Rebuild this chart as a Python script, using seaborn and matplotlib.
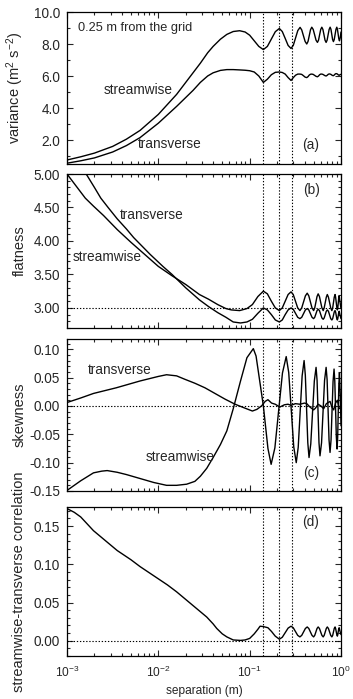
import numpy as np
import pandas as pd
import matplotlib
matplotlib.use("Agg")
import matplotlib.pyplot as plt
import matplotlib.ticker as mticker
import seaborn as sns

# ---------------- data ----------------
# separations are stored as log10(separation / m)

# panel (a) variance
var_logsep = [-3.0, -2.85, -2.7, -2.5, -2.35, -2.2, -2.0, -1.8, -1.62, -1.54,
              -1.46, -1.40, -1.32, -1.25, -1.18, -1.11, -1.05, -1.0, -0.95, -0.90,
              -0.85, -0.806, -0.7625, -0.719, -0.675, -0.643, -0.611, -0.579, -0.547, -0.522,
              -0.4975, -0.473, -0.448, -0.43, -0.4115, -0.393, -0.375, -0.361, -0.3475, -0.334,
              -0.32, -0.3045, -0.289, -0.2735, -0.258, -0.246, -0.234, -0.222, -0.21, -0.198,
              -0.1865, -0.175, -0.163, -0.152, -0.141, -0.13, -0.119, -0.11, -0.101, -0.092,
              -0.083, -0.074, -0.0645, -0.055, -0.046, -0.039, -0.0315, -0.024, -0.017, -0.008,
              0.0]
var_stream = [0.75, 0.95, 1.18, 1.6, 2.05, 2.6, 3.6, 4.85, 6.2, 6.8,
              7.45, 7.85, 8.3, 8.6, 8.78, 8.83, 8.75, 8.55, 8.2, 7.85,
              7.65, 7.85, 8.31, 8.77, 8.97, 8.78, 8.35, 7.91, 7.72, 7.92,
              8.38, 8.84, 9.04, 8.88, 8.52, 8.16, 8.0, 8.16, 8.52, 8.89,
              9.05, 8.91, 8.58, 8.24, 8.1, 8.24, 8.58, 8.91, 9.05, 8.91,
              8.58, 8.24, 8.1, 8.24, 8.58, 8.91, 9.05, 8.92, 8.6, 8.28,
              8.15, 8.28, 8.6, 8.92, 9.05, 8.92, 8.63, 8.33, 8.2, 8.4,
              8.75]
var_trans = [0.55, 0.7, 0.88, 1.25, 1.65, 2.15, 3.05, 4.1, 5.1, 5.6,
             6.0, 6.2, 6.35, 6.4, 6.4, 6.38, 6.36, 6.33, 6.25, 6.0,
             5.6, 5.8, 6.08, 6.23, 6.25, 6.22, 6.12, 5.9, 5.72, 5.9,
             6.05, 6.12, 6.12, 6.1, 6.02, 5.93, 5.9, 5.96, 6.06, 6.11,
             6.12, 6.1, 6.04, 5.98, 5.95, 6.0, 6.08, 6.12, 6.12, 6.1,
             6.06, 6.02, 6.0, 6.04, 6.1, 6.13, 6.12, 6.1, 6.06, 6.03,
             6.02, 6.06, 6.12, 6.15, 6.14, 6.12, 6.08, 6.05, 6.05, 6.09,
             6.1]

# panel (b) flatness
flat_s_logsep = [-3.0, -2.9, -2.8, -2.71, -2.6, -2.45, -2.3, -2.2, -2.0, -1.85,
                 -1.7, -1.55, -1.45, -1.35, -1.26, -1.2, -1.11, -1.03, -0.97, -0.91,
                 -0.85, -0.806, -0.7625, -0.719, -0.675, -0.643, -0.611, -0.579, -0.547, -0.523,
                 -0.4985, -0.474, -0.45, -0.43, -0.41, -0.39, -0.37, -0.3525, -0.335, -0.3175,
                 -0.30, -0.2875, -0.275, -0.2625, -0.25, -0.236, -0.2225, -0.209, -0.195, -0.184,
                 -0.1725, -0.161, -0.15, -0.1375, -0.125, -0.1125, -0.10, -0.091, -0.0825, -0.074,
                 -0.065, -0.059, -0.0525, -0.046, -0.04, -0.035, -0.03, -0.025, -0.02, -0.01,
                 0.0]
flat_stream = [5.0, 4.82, 4.64, 4.52, 4.38, 4.17, 3.98, 3.86, 3.62, 3.48,
               3.35, 3.2, 3.13, 3.05, 2.99, 2.97, 2.96, 2.99, 3.05, 3.17,
               3.25, 3.21, 3.1, 3.0, 2.96, 3.0, 3.1, 3.2, 3.24, 3.2,
               3.1, 3.0, 2.96, 3.0, 3.09, 3.18, 3.22, 3.18, 3.09, 3.0,
               2.96, 3.0, 3.085, 3.17, 3.21, 3.17, 3.085, 3.0, 2.96, 3.0,
               3.08, 3.16, 3.2, 3.16, 3.08, 3.0, 2.96, 3.0, 3.08, 3.16,
               3.2, 3.16, 3.085, 3.01, 2.97, 3.0, 3.075, 3.15, 3.18, 3.08,
               2.99]
flat_t_logsep = [-2.79, -2.7, -2.63, -2.55, -2.45, -2.35, -2.27, -2.09, -1.95, -1.85,
                 -1.7, -1.55, -1.45, -1.35, -1.26, -1.18, -1.1, -1.03, -0.97, -0.91,
                 -0.85, -0.806, -0.7625, -0.719, -0.675, -0.643, -0.611, -0.579, -0.547, -0.523,
                 -0.4985, -0.474, -0.45, -0.43, -0.41, -0.39, -0.37, -0.3525, -0.335, -0.3175,
                 -0.30, -0.2875, -0.275, -0.2625, -0.25, -0.236, -0.2225, -0.209, -0.195, -0.184,
                 -0.1725, -0.161, -0.15, -0.1375, -0.125, -0.1125, -0.10, -0.091, -0.0825, -0.074,
                 -0.065, -0.059, -0.0525, -0.046, -0.04, -0.035, -0.03, -0.025, -0.02, -0.01,
                 0.0]
flat_trans = [5.0, 4.8, 4.64, 4.5, 4.33, 4.18, 4.05, 3.8, 3.62, 3.5,
              3.3, 3.12, 3.02, 2.93, 2.86, 2.79, 2.775, 2.79, 2.83, 2.92,
              3.0, 2.97, 2.9, 2.82, 2.79, 2.82, 2.9, 2.97, 3.0, 2.98,
              2.92, 2.86, 2.84, 2.86, 2.915, 2.97, 2.99, 2.97, 2.915, 2.86,
              2.84, 2.86, 2.91, 2.96, 2.98, 2.96, 2.905, 2.85, 2.83, 2.85,
              2.9, 2.95, 2.97, 2.95, 2.895, 2.84, 2.82, 2.84, 2.89, 2.94,
              2.96, 2.94, 2.89, 2.84, 2.82, 2.84, 2.885, 2.93, 2.95, 2.89,
              2.84]

# panel (c) skewness
skew_t_logsep = [-3.0, -2.85, -2.71, -2.46, -2.2, -2.0, -1.91, -1.8, -1.71, -1.6,
                 -1.49, -1.38, -1.27, -1.16, -1.05, -0.97, -0.92, -0.87, -0.83, -0.80,
                 -0.76, -0.72, -0.67, -0.62, -0.58, -0.547, -0.50, -0.45, -0.40, -0.375,
                 -0.34, -0.30, -0.28, -0.25, -0.22, -0.19, -0.16, -0.12, -0.10, -0.08,
                 -0.06, -0.04, -0.02, 0.0]
skew_trans = [0.006, 0.014, 0.022, 0.032, 0.044, 0.052, 0.055, 0.053, 0.047, 0.04,
              0.032, 0.022, 0.012, 0.003, -0.004, -0.009, -0.006, 0.0, 0.008, 0.011,
              0.005, 0.003, -0.002, 0.002, 0.003, 0.001, 0.004, 0.003, 0.005, 0.004,
              -0.002, -0.007, -0.004, 0.003, 0.0, -0.005, 0.004, 0.008, -0.002, -0.007,
              0.005, 0.01, -0.004, -0.006]
skew_s_logsep = [-3.0, -2.85, -2.71, -2.62, -2.56, -2.45, -2.35, -2.2, -2.05, -1.91,
                 -1.8, -1.69, -1.6, -1.54, -1.47, -1.40, -1.32, -1.25, -1.18, -1.10,
                 -1.03, -0.96, -0.93, -0.90, -0.85, -0.80, -0.765, -0.724, -0.6825, -0.641,
                 -0.60, -0.5725, -0.545, -0.5175, -0.49, -0.4685, -0.447, -0.4255, -0.404, -0.3905,
                 -0.377, -0.3635, -0.35, -0.331, -0.3115, -0.292, -0.273, -0.262, -0.2515, -0.241,
                 -0.23, -0.213, -0.1965, -0.18, -0.163, -0.152, -0.1415, -0.131, -0.12, -0.109,
                 -0.098, -0.087, -0.076, -0.068, -0.0595, -0.051, -0.043, -0.0365, -0.03, -0.0235,
                 -0.017, -0.008, 0.0]
skew_stream = [-0.149, -0.132, -0.118, -0.115, -0.114, -0.117, -0.121, -0.128, -0.135, -0.14,
               -0.14, -0.138, -0.133, -0.124, -0.11, -0.091, -0.068, -0.044, -0.005, 0.044,
               0.085, 0.101, 0.088, 0.055, 0.0, -0.075, -0.103, -0.074, -0.008, 0.058,
               0.087, 0.059, -0.006, -0.072, -0.1, -0.073, -0.01, 0.053, 0.08, 0.054,
               -0.005, -0.065, -0.091, -0.067, -0.011, 0.044, 0.068, 0.045, -0.01, -0.065,
               -0.088, -0.065, -0.01, 0.045, 0.068, 0.046, -0.007, -0.06, -0.082, -0.06,
               -0.008, 0.043, 0.065, 0.044, -0.005, -0.055, -0.076, -0.056, -0.009, 0.038,
               0.058, 0.02, -0.035]

# panel (d) streamwise-transverse correlation
corr_logsep = [-3.0, -2.92, -2.85, -2.78, -2.71, -2.6, -2.45, -2.3, -2.2, -2.05,
               -1.9, -1.8, -1.69, -1.58, -1.47, -1.4, -1.36, -1.3, -1.25, -1.18,
               -1.10, -1.05, -1.0, -0.95, -0.91, -0.886, -0.85, -0.80, -0.76, -0.72,
               -0.675, -0.643, -0.611, -0.579, -0.547, -0.523, -0.4985, -0.474, -0.45, -0.43,
               -0.41, -0.39, -0.37, -0.3525, -0.335, -0.3175, -0.30, -0.2875, -0.275, -0.2625,
               -0.25, -0.236, -0.2225, -0.209, -0.195, -0.184, -0.1725, -0.161, -0.15, -0.1375,
               -0.125, -0.1125, -0.10, -0.091, -0.0825, -0.074, -0.065, -0.059, -0.0525, -0.046,
               -0.04, -0.035, -0.03, -0.025, -0.02, -0.01, 0.0]
corr = [0.173, 0.168, 0.162, 0.153, 0.144, 0.133, 0.118, 0.106, 0.097, 0.085,
        0.073, 0.064, 0.053, 0.042, 0.031, 0.022, 0.016, 0.009, 0.005, 0.001,
        0.0004, 0.001, 0.003, 0.009, 0.015, 0.019, 0.0185, 0.017, 0.012, 0.006,
        0.002, 0.0045, 0.0105, 0.0165, 0.019, 0.017, 0.012, 0.007, 0.005, 0.007,
        0.0115, 0.016, 0.018, 0.016, 0.0115, 0.007, 0.005, 0.007, 0.0115, 0.016,
        0.018, 0.016, 0.0115, 0.007, 0.005, 0.007, 0.0115, 0.016, 0.018, 0.016,
        0.0115, 0.007, 0.005, 0.007, 0.0115, 0.016, 0.018, 0.016, 0.012, 0.008,
        0.006, 0.008, 0.012, 0.0155, 0.017, 0.012, 0.008]

guide_lines = [0.141, 0.212, 0.288]
x_ticks = [0.001, 0.01, 0.1, 1.0]

# ---------------- styling ----------------
sns.set_style("ticks")
plt.rcParams['font.family'] = ['Liberation Sans', 'DejaVu Sans']
plt.rcParams['mathtext.fontset'] = 'custom'
plt.rcParams['mathtext.rm'] = 'Liberation Sans'
plt.rcParams['mathtext.it'] = 'Liberation Sans:italic'
plt.rcParams['mathtext.default'] = 'regular'
plt.rcParams['axes.unicode_minus'] = False

W, H = 353, 699
fig = plt.figure(figsize=(W / 100, H / 100), dpi=100)

def rect(top, bottom, left=67, right=341):
    return [left / W, 1 - bottom / H, (right - left) / W, (bottom - top) / H]

ax_a = fig.add_axes(rect(12, 164))
ax_b = fig.add_axes(rect(174, 328))
ax_c = fig.add_axes(rect(339, 491))
ax_d = fig.add_axes(rect(507, 656))
axes = [ax_a, ax_b, ax_c, ax_d]

FS_YTICK = 9.8
FS_XTICK = 8.6
FS_YLAB = 10.5
FS_XLAB = 8.6
FS_TXT = 9.8
FS_HEAD = 9.2
LW = 1.0
dot = (0, (1.2, 1.6))

def draw(ax, logx, ys):
    df = pd.DataFrame({'sep': np.power(10.0, logx), 'val': ys})
    sns.lineplot(data=df, x='sep', y='val', ax=ax, color='black', linewidth=LW,
                 estimator=None, sort=False, legend=False)

draw(ax_a, var_logsep, var_stream)
draw(ax_a, var_logsep, var_trans)
draw(ax_b, flat_s_logsep, flat_stream)
draw(ax_b, flat_t_logsep, flat_trans)
draw(ax_c, skew_t_logsep, skew_trans)
draw(ax_c, skew_s_logsep, skew_stream)
draw(ax_d, corr_logsep, corr)

ax_b.axhline(3.0, color='black', lw=0.8, ls=dot)
ax_c.axhline(0.0, color='black', lw=0.8, ls=dot)
ax_d.axhline(0.0, color='black', lw=0.8, ls=dot)

ylims = [(0.5, 10.0), (2.7, 5.0), (-0.15, 0.118), (-0.02, 0.175)]
ymaj = [2.0, 0.5, 0.05, 0.05]
ymin = [1.0, 0.1, 0.01, 0.01]
yfmt = ['%.1f', '%.2f', '%.2f', '%.2f']
ylabels = ['variance (m$^2$ s$^{-2}$)', 'flatness', 'skewness',
           'streamwise-transverse correlation']

for i, ax in enumerate(axes):
    for g in guide_lines:
        ax.axvline(g, color='black', lw=0.8, ls=dot)
    ax.set_xscale('log')
    ax.set_xlim(x_ticks[0], x_ticks[-1])
    ax.set_ylim(*ylims[i])
    ax.yaxis.set_major_locator(mticker.MultipleLocator(ymaj[i]))
    ax.yaxis.set_minor_locator(mticker.MultipleLocator(ymin[i]))
    ax.yaxis.set_major_formatter(mticker.FormatStrFormatter(yfmt[i]))
    ax.xaxis.set_major_locator(mticker.FixedLocator(x_ticks))
    ax.xaxis.set_minor_locator(mticker.LogLocator(base=10, subs=np.arange(2, 10), numticks=20))
    ax.xaxis.set_minor_formatter(mticker.NullFormatter())
    ax.tick_params(which='both', direction='in', top=True, right=True,
                   width=0.8, pad=5)
    ax.tick_params(axis='y', labelsize=FS_YTICK)
    ax.tick_params(axis='x', labelsize=FS_XTICK)
    ax.tick_params(which='major', length=4)
    ax.tick_params(which='minor', length=2)
    for sp in ax.spines.values():
        sp.set_linewidth(0.9)
        sp.set_color('black')
    ax.set_ylabel(ylabels[i], fontsize=FS_YLAB)
    ax.yaxis.set_label_coords(-0.148, 0.5)
    if ax is not ax_d:
        ax.set_xticklabels([])
    ax.set_xlabel('')

ax_d.xaxis.set_major_formatter(mticker.LogFormatterSciNotation())
ax_d.set_xlabel('separation (m)', fontsize=FS_XLAB, labelpad=4)
ax_d.tick_params(axis='x', pad=6)

# annotations
def t(ax, x, y, s, size=FS_TXT, ha='center'):
    ax.text(x, y, s, fontsize=size, transform=ax.transAxes, va='center', ha=ha)

t(ax_a, 0.04, 0.895, '0.25 m from the grid', size=FS_HEAD, ha='left')
t(ax_a, 0.259, 0.487, 'streamwise')
t(ax_a, 0.376, 0.13, 'transverse')
t(ax_a, 0.89, 0.125, '(a)')
t(ax_b, 0.894, 0.896, '(b)')
t(ax_b, 0.31, 0.734, 'transverse')
t(ax_b, 0.146, 0.461, 'streamwise')
t(ax_c, 0.193, 0.796, 'transverse')
t(ax_c, 0.412, 0.224, 'streamwise')
t(ax_c, 0.89, 0.118, '(c)')
t(ax_d, 0.89, 0.9, '(d)')

fig.savefig('out.png', dpi=100)
